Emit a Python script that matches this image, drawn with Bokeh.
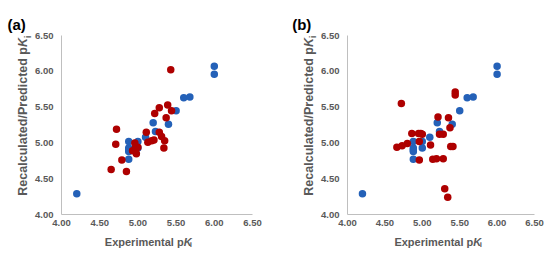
import math
from bokeh.plotting import figure
from bokeh.layouts import row, column
from bokeh.models import Range1d, FixedTicker, NumeralTickFormatter, Label
from bokeh.embed import file_html
from bokeh.resources import INLINE

# ---- data ----
tick_values = [4.0, 4.5, 5.0, 5.5, 6.0, 6.5]

train_x = [4.20, 6.00, 6.00, 5.60, 5.68, 5.50, 5.20, 5.40, 5.23, 5.10, 4.88, 5.00, 4.88, 4.88, 4.88, 5.00, 4.88]
train_y = [4.29, 6.07, 5.96, 5.63, 5.64, 5.45, 5.28, 5.26, 5.16, 5.08, 5.02, 5.02, 4.93, 4.88, 4.77, 4.93, 4.90]

test_a_x = [5.43, 5.39, 5.28, 5.22, 5.44, 5.37, 4.72, 5.11, 5.28, 5.31, 5.35, 5.13, 5.18,
            5.21, 4.71, 5.34, 4.96, 4.97, 4.93, 4.98, 4.96, 4.79, 4.65, 4.85, 5.00]
test_a_y = [6.02, 5.53, 5.49, 5.41, 5.45, 5.35, 5.19, 5.15, 5.15, 5.09, 5.03, 5.01, 5.03,
            5.04, 4.98, 4.93, 5.00, 4.94, 4.89, 4.85, 4.90, 4.76, 4.63, 4.60, 4.94]

test_b_x = [5.44, 5.44, 4.72, 5.21, 5.35, 5.37, 4.86, 4.95, 4.98, 5.00, 5.23, 5.28, 4.96,
            4.80, 4.73, 4.66, 5.11, 5.38, 5.41, 4.96, 5.14, 5.19, 5.28, 5.30, 5.34]
test_b_y = [5.71, 5.67, 5.55, 5.36, 5.35, 5.21, 5.13, 5.13, 5.13, 5.12, 5.12, 5.12, 5.02,
            4.99, 4.96, 4.94, 4.97, 4.95, 4.95, 4.76, 4.77, 4.78, 4.78, 4.36, 4.24]

x_title = ["Experimental p", "K", "i"]
y_title = ["Recalculated/Predicted p", "K", "i"]

BLUE = "#2461B8"
RED = "#AE0000"
GRAY_TXT = "#595959"
AXIS_GRAY = "#BFBFBF"
FONT = "Liberation Sans"

MAIN_H = 230
XT_H = 24


def text_fig(w, h):
    f = figure(width=w, height=h, output_backend="svg", toolbar_location=None,
               x_range=Range1d(0, w), y_range=Range1d(0, h),
               x_axis_type=None, y_axis_type=None, min_border=0)
    f.outline_line_color = None
    f.background_fill_color = "white"
    f.border_fill_color = "white"
    return f


def main_fig(width, right, tx, ty, rx, ry):
    p = figure(width=width, height=MAIN_H, output_backend="svg", toolbar_location=None,
               x_range=Range1d(4.0, 6.5), y_range=Range1d(4.0, 6.5),
               min_border_left=28, min_border_right=right,
               min_border_top=35, min_border_bottom=16)
    p.outline_line_color = None
    p.xgrid.grid_line_color = None
    p.ygrid.grid_line_color = None
    p.background_fill_color = "white"
    p.border_fill_color = "white"
    for ax in (p.xaxis[0], p.yaxis[0]):
        ax.ticker = FixedTicker(ticks=tick_values)
        ax.formatter = NumeralTickFormatter(format="0.00")
        ax.axis_line_color = AXIS_GRAY
        ax.axis_line_width = 1
        ax.major_tick_line_color = None
        ax.minor_tick_line_color = None
        ax.major_tick_out = 0
        ax.major_tick_in = 0
        ax.minor_tick_out = 0
        ax.minor_tick_in = 0
        ax.major_label_text_font = FONT
        ax.major_label_text_font_size = "9.5px"
        ax.major_label_text_font_style = "bold"
        ax.major_label_text_color = GRAY_TXT
    p.xaxis[0].major_label_standoff = 5
    p.yaxis[0].major_label_standoff = 8
    p.scatter(tx, ty, size=7.5, color=BLUE, line_color=None)
    p.scatter(rx, ry, size=7.5, color=RED, line_color=None)
    return p


def xtitle_fig(width, cx):
    f = text_fig(width, XT_H)
    common = dict(text_font=FONT, text_color=GRAY_TXT, text_baseline="alphabetic")
    base = 13
    f.add_layout(Label(x=cx + 34, y=base, text=x_title[0], text_align="right",
                       text_font_size="11px", text_font_style="bold", **common))
    f.add_layout(Label(x=cx + 34, y=base, text=x_title[1], text_align="left",
                       text_font_size="11px", text_font_style="bold italic", **common))
    f.add_layout(Label(x=cx + 42, y=base - 3, text=x_title[2], text_align="left",
                       text_font_size="8px", text_font_style="bold", **common))
    return f


def left_fig(width, base_x, tag, tag_x):
    h = MAIN_H + XT_H
    f = text_fig(width, h)
    common = dict(text_font=FONT, text_color=GRAY_TXT, text_baseline="top")
    ang = math.pi / 2
    ytop = h - 46.5
    big = 12.5
    small = 8.5
    f.add_layout(Label(x=base_x - 0.9 * big, y=ytop, angle=ang, text=y_title[0],
                       text_align="right", text_font_size=f"{big}px",
                       text_font_style="bold", **common))
    f.add_layout(Label(x=base_x - 0.9 * big, y=ytop, angle=ang, text=y_title[1],
                       text_align="left", text_font_size=f"{big}px",
                       text_font_style="bold italic", **common))
    f.add_layout(Label(x=base_x + 3 - 0.9 * small, y=ytop + 9, angle=ang, text=y_title[2],
                       text_align="left", text_font_size=f"{small}px",
                       text_font_style="bold", **common))
    f.add_layout(Label(x=tag_x, y=h - 24, text=tag, text_align="left",
                       text_baseline="alphabetic", text_font=FONT, text_font_size="15px",
                       text_font_style="bold", text_color="black"))
    return f


la = left_fig(32, 26.8, "(a)", 7)
ma = main_fig(247, 27, train_x, train_y, test_a_x, test_a_y)
xa = xtitle_fig(247, 124)

lb = left_fig(39, 33.5, "(b)", 12.7)
mb = main_fig(232, 16, train_x, train_y, test_b_x, test_b_y)
xb = xtitle_fig(232, 122)

layout = row(la, column(ma, xa), lb, column(mb, xb))
open("out.html", "w").write(file_html(layout, INLINE))
